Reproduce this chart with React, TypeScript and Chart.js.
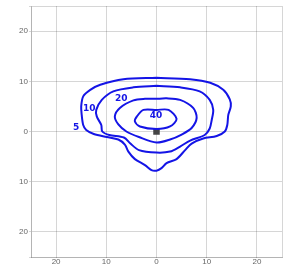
import React, { useEffect, useRef } from "react";
import { Chart, registerables } from "chart.js";

Chart.register(...registerables);

const axisTicks = [-25, -20, -10, 0, 10, 20, 25];

const contour5X = [0, -6.6, -11.2, -13.2, -14.6, -15, -14.9, -14.6, -14, -12.5, -9.9, -7.6, -6.3, -5.6, -4.3, -2.3, -1, 0, 1, 2, 4, 5.7, 7, 9.3, 12, 13.6, 14.1, 14.3, 14.8, 14.6, 13.3, 10.7, 6.7, 0];
const contour5Y = [10.7, 10.4, 9.3, 8.3, 7, 5, 3.3, 1.3, 0.3, -0.5, -1.1, -1.6, -2.6, -4, -5.5, -6.7, -7.7, -7.8, -7.3, -6.3, -5.5, -3.7, -2.4, -1.4, -0.9, 0, 1.3, 3.3, 5, 6.4, 8.3, 9.7, 10.4, 10.7];

const contour10X = [0, -4.6, -8.6, -10.9, -12, -11.9, -11, -10.8, -9.4, -6.5, -5.2, -3.5, 0, 2.7, 4.7, 6.7, 9.6, 10.6, 11, 11.3, 10.6, 8.6, 4.7, 0];
const contour10Y = [9.1, 8.8, 8, 6.3, 4.3, 3, 1.3, 0, -0.7, -1.2, -2.4, -3.7, -4.2, -4, -3, -1.8, -0.7, 0.6, 2.3, 4.3, 6.3, 8, 8.8, 9.1];

const contour20X = [0, -2.3, -4.6, -7.3, -8.3, -7.6, -6, -3.5, 0, 2.7, 5, 7, 8, 7.3, 4.7, 2, 0];
const contour20Y = [6.5, 6.5, 6.2, 4.7, 3, 1.4, 0, -1.1, -2.2, -1.6, -0.6, 0.7, 2.7, 4.7, 6.3, 6.6, 6.5];

const contour40X = [0, -2.6, -3.9, -4.3, -3.3, 0, 2.7, 4, 2.4, 0];
const contour40Y = [4.3, 4.3, 3, 2, 1, 0.5, 1, 2.5, 4.3, 4.3];

const labelTexts = ["5", "10", "20", "40"];
const labelX = [-16, -13.4, -7, -0.1];
const labelY = [0.7, 4.5, 6.5, 3.2];

const centerX = [0];
const centerY = [0];

const BLUE = "rgb(20,20,230)";
const GRID = "rgba(0,0,0,0.16)";

function toPoints(xs: number[], ys: number[]) {
  return xs.map((x, i) => ({ x, y: ys[i] }));
}

const labelPlugin = {
  id: "contourLabels",
  afterDatasetsDraw(chart: any) {
    const { ctx, scales } = chart;
    ctx.save();
    ctx.font = "bold 9px 'DejaVu Sans', sans-serif";
    ctx.fillStyle = BLUE;
    ctx.textAlign = "center";
    ctx.textBaseline = "middle";
    labelTexts.forEach((t, i) => {
      ctx.fillText(t, scales.x.getPixelForValue(labelX[i]), scales.y.getPixelForValue(labelY[i]));
    });
    ctx.restore();
  },
};

export default function App() {
  const ref = useRef<HTMLCanvasElement>(null);
  useEffect(() => {
    document.body.style.margin = "0";
    const lineDs = (xs: number[], ys: number[]) => ({
      data: toPoints(xs, ys),
      showLine: true,
      borderColor: BLUE,
      borderWidth: 2,
      pointRadius: 0,
      tension: 0.3,
      fill: false,
    });
    const tickFont = { family: "'Liberation Sans', Arial, sans-serif", size: 8 };
    const chart = new Chart(ref.current!, {
      type: "scatter",
      data: {
        datasets: [
          lineDs(contour5X, contour5Y),
          lineDs(contour10X, contour10Y),
          lineDs(contour20X, contour20Y),
          lineDs(contour40X, contour40Y),
          {
            data: toPoints(centerX, centerY),
            pointStyle: "rect",
            pointRadius: 4.6,
            backgroundColor: "#444",
            borderColor: "#444",
            borderWidth: 0,
          } as any,
        ],
      },
      options: {
        animation: false,
        responsive: true,
        maintainAspectRatio: false,
        layout: { padding: { top: 6, right: 5, left: 0, bottom: 0 } },
        plugins: { legend: { display: false }, tooltip: { enabled: false } },
        scales: {
          x: {
            type: "linear",
            min: -25,
            max: 25,
            afterBuildTicks: (s: any) => {
              s.ticks = axisTicks.map((v) => ({ value: v }));
            },
            afterFit: (s: any) => {
              s.height = 7;
            },
            grid: { color: GRID, tickLength: 0 },
            border: { color: GRID },
            ticks: {
              font: tickFont,
              color: "#666",
              padding: 0,
              maxRotation: 0,
              autoSkip: false,
              callback: (v: any) => (Math.abs(v) === 25 ? "" : String(Math.abs(v))),
            },
          },
          y: {
            type: "linear",
            min: -25,
            max: 25,
            afterBuildTicks: (s: any) => {
              s.ticks = axisTicks.map((v) => ({ value: v }));
            },
            afterFit: (s: any) => {
              s.width = 31;
            },
            grid: { color: GRID, tickLength: 2 },
            border: { color: GRID },
            ticks: {
              font: tickFont,
              color: "#666",
              padding: 1,
              autoSkip: false,
              callback: (v: any) => (Math.abs(v) === 25 ? "" : String(Math.abs(v))),
            },
          },
        },
      },
      plugins: [labelPlugin],
    });
    return () => chart.destroy();
  }, []);
  return (
    <div style={{ width: 287, height: 264, position: "relative" }}>
      <canvas ref={ref} />
    </div>
  );
}
